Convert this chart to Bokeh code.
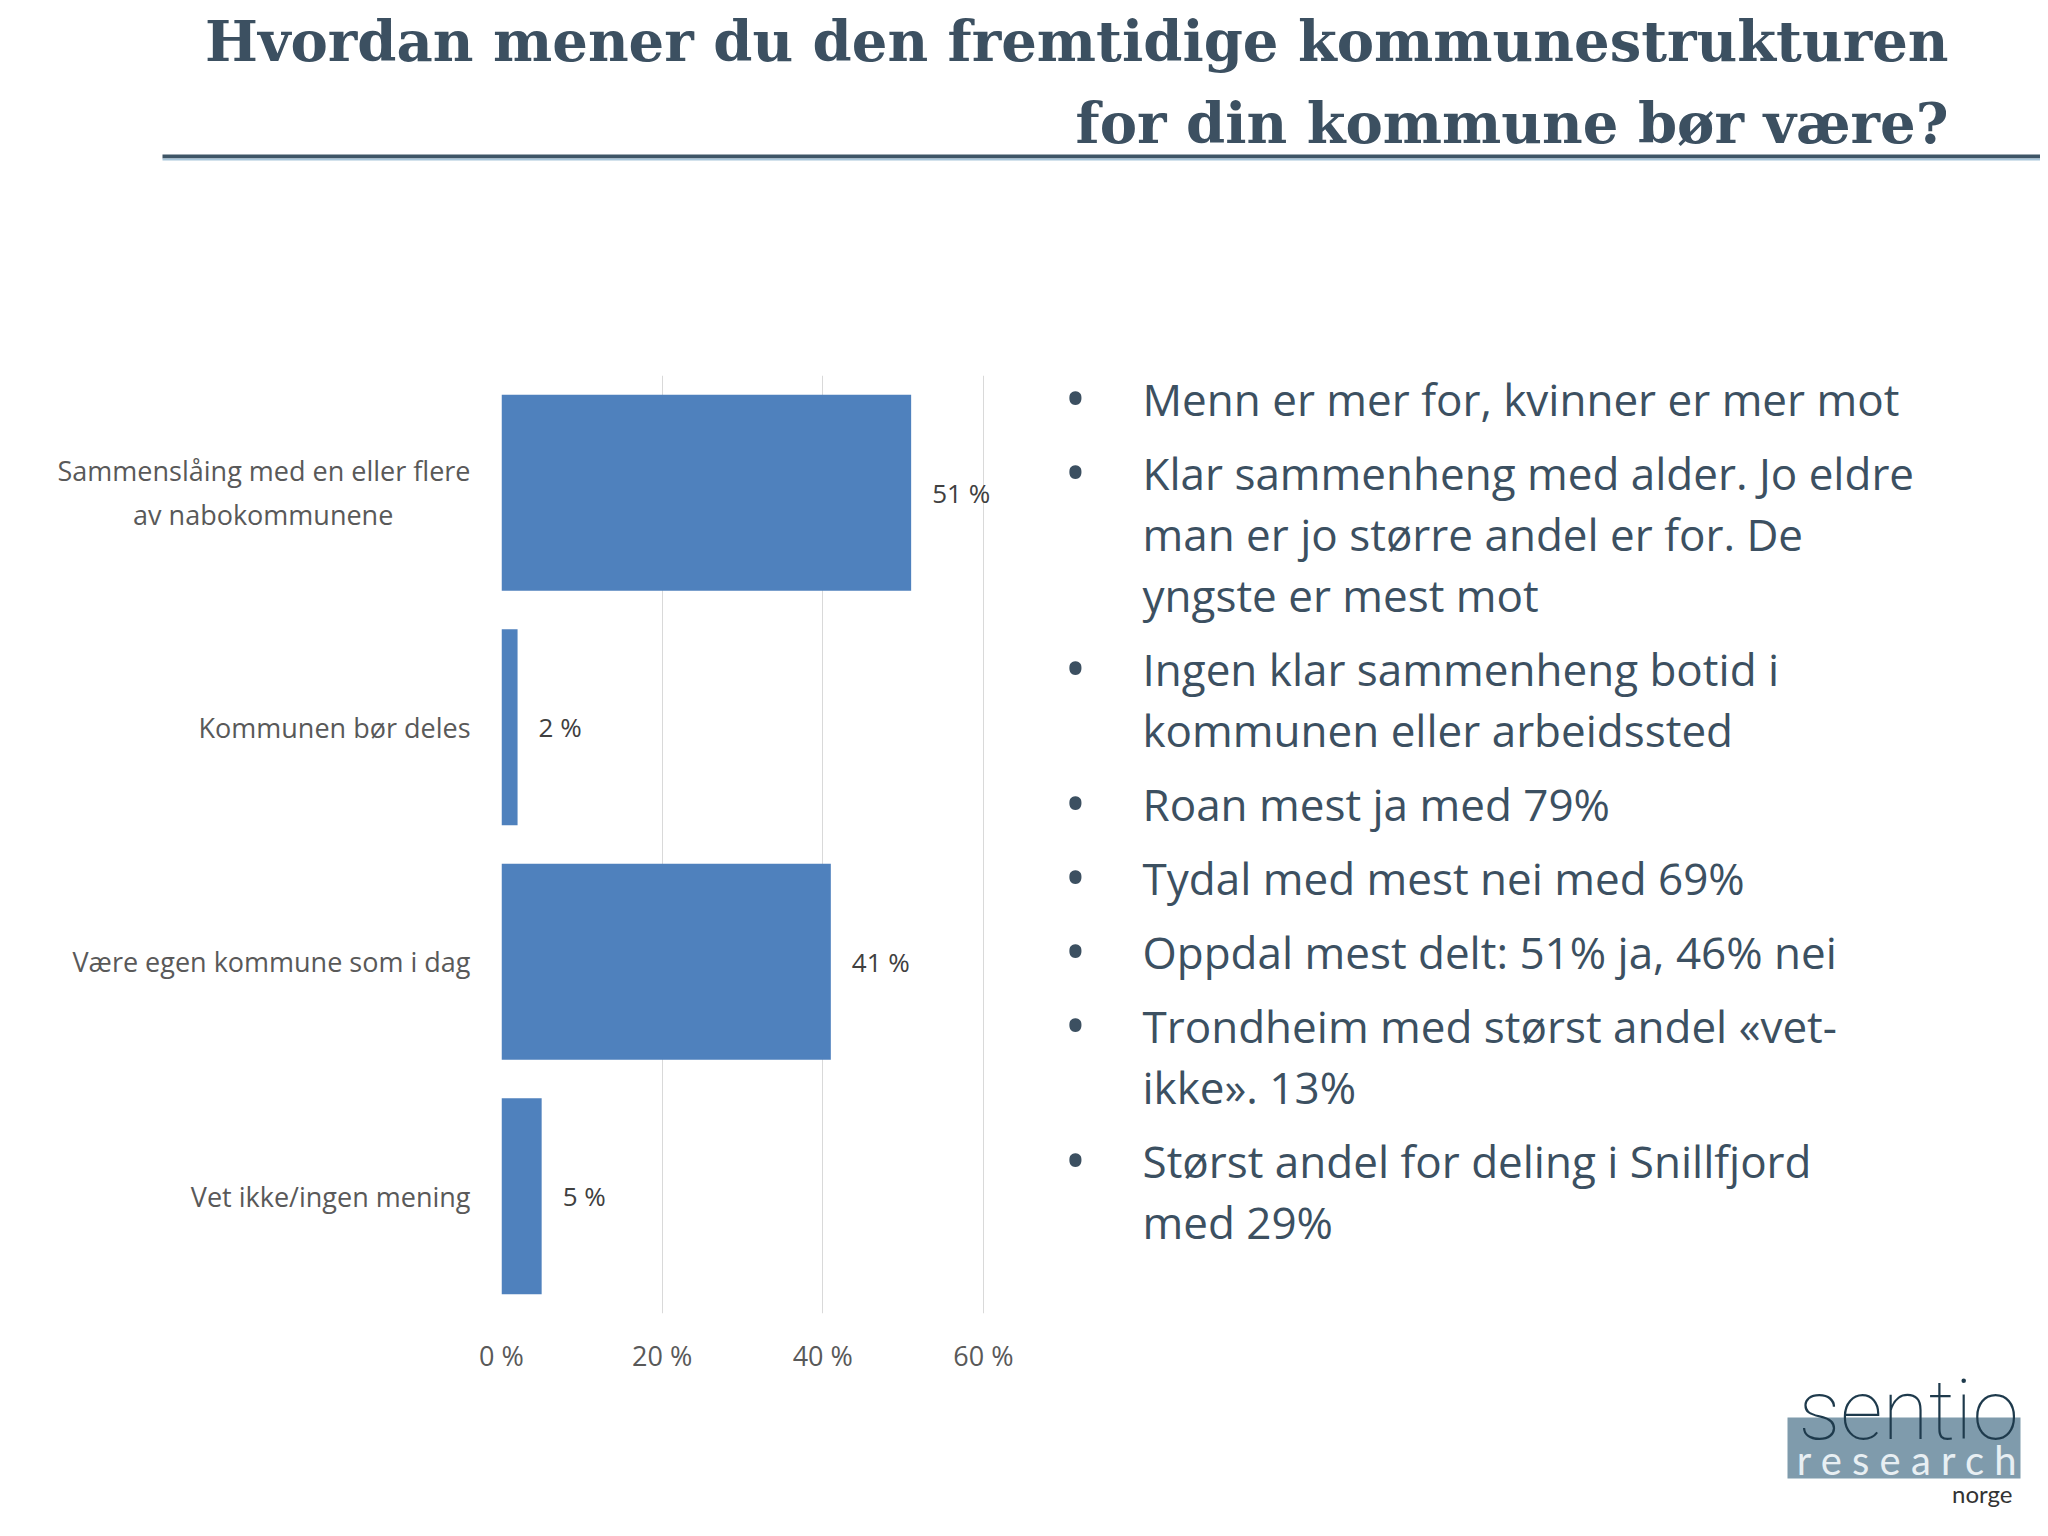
from bokeh.plotting import figure
from bokeh.layouts import column, row
from bokeh.models import (FactorRange, Range1d, FixedTicker, LabelSet, Label,
                          BoxAnnotation, ColumnDataSource)
from bokeh.embed import file_html
from bokeh.resources import INLINE
from bokeh.core.properties import value

# ---------------- data ----------------
categories = ["Sammenslåing med en eller flere\nav nabokommunene" + "\u00a0" * 11,
              "Kommunen bør deles",
              "Være egen kommune som i dag",
              "Vet ikke/ingen mening"]
values = [51, 2, 41, 5]
x_ticks = [0, 20, 40, 60]
tick_labels = ["0 %", "20 %", "40 %", "60 %"]
value_labels = [f"{v} %" for v in values]

title_lines = ["Hvordan mener du den fremtidige kommunestrukturen",
               "for din kommune bør være?"]
bullets = [
    ["Menn er mer for, kvinner er mer mot"],
    ["Klar sammenheng med alder. Jo eldre", "man er jo større andel er for. De", "yngste er mest mot"],
    ["Ingen klar sammenheng botid i", "kommunen eller arbeidssted"],
    ["Roan mest ja med 79%"],
    ["Tydal med mest nei med 69%"],
    ["Oppdal mest delt: 51% ja, 46% nei"],
    ["Trondheim med størst andel «vet-", "ikke». 13%"],
    ["Størst andel for deling i Snillfjord", "med 29%"],
]

BAR_COLOR = "#4f81bd"
SLATE = "#3c5061"
GRAY = "#595959"
SANS = "Open Sans"

PAGE_W = 2040
HEADER_H = 180
BODY_H = 1348
CHART_W = 1040

# Bokeh places an "alphabetic" label a little below the given y; compensate (fraction of font size)
def base(y, size, k=0.43):
    return y - k * size


def blank(w, h, x0, x1, y_top, y_bottom):
    f = figure(width=w, height=h, x_range=Range1d(x0, x1), y_range=Range1d(y_bottom, y_top),
               min_border=0, x_axis_location=None, y_axis_location=None,
               toolbar_location=None, output_backend="svg")
    f.frame_align = False
    f.outline_line_color = None
    f.xgrid.visible = False
    f.ygrid.visible = False
    return f


# ---------------- header (title + rule) ----------------
TITLE_SIZE = 56
head = blank(PAGE_W, HEADER_H, 0, PAGE_W, 0, HEADER_H)
for txt, b in zip(title_lines, [65, 147]):
    head.add_layout(Label(x=1948, y=base(b, TITLE_SIZE), text=txt, text_align="right",
                          text_baseline="alphabetic", text_font="DejaVu Serif",
                          text_font_style="bold", text_font_size=f"{TITLE_SIZE}px",
                          text_color=SLATE))
head.add_layout(BoxAnnotation(left=162, right=PAGE_W, top=154, bottom=158,
                              fill_color="#3e5566", fill_alpha=1.0, line_alpha=0))
head.add_layout(BoxAnnotation(left=162, right=PAGE_W, top=158, bottom=160,
                              fill_color="#a8c6da", fill_alpha=1.0, line_alpha=0))

# ---------------- bar chart ----------------
p = figure(y_range=FactorRange(*reversed(categories)), x_range=Range1d(0, 62),
           frame_width=498, frame_height=938,
           min_border_left=501, min_border_right=CHART_W - 501 - 498,
           min_border_top=195, min_border_bottom=BODY_H - 195 - 938,
           output_backend="svg", toolbar_location=None)
p.frame_align = False
p.outline_line_color = None

src = ColumnDataSource(dict(cat=categories, val=values, lbl=value_labels))
p.hbar(y="cat", left=0, right="val", height=0.836, source=src,
       fill_color=BAR_COLOR, line_color=None)

p.add_layout(LabelSet(x="val", y="cat", text="lbl", source=src, x_offset=21,
                      text_align="left", text_baseline="middle",
                      text_font=value(SANS), text_font_size="26px",
                      text_color="#404040"))

xa = p.xaxis[0]
xa.ticker = FixedTicker(ticks=x_ticks)
xa.major_label_overrides = {t: l for t, l in zip(x_ticks, tick_labels)}
xa.axis_line_color = None
xa.major_tick_line_color = None
xa.minor_tick_line_color = None
xa.major_tick_out = 0
xa.major_label_standoff = 23
xa.major_label_text_font = SANS
xa.major_label_text_font_size = "27px"
xa.major_label_text_color = GRAY

ya = p.yaxis[0]
ya.axis_line_color = None
ya.major_tick_line_color = None
ya.minor_tick_line_color = None
ya.major_tick_out = 0
ya.major_label_standoff = 31
ya.major_label_text_font = SANS
ya.major_label_text_font_size = "27px"
ya.major_label_text_color = GRAY

p.xgrid.ticker = FixedTicker(ticks=x_ticks)
p.xgrid.grid_line_color = "#d9d9d9"
p.xgrid.grid_line_width = 1
p.ygrid.grid_line_color = None

# ---------------- bullets + logo ----------------
BUL_SIZE = 44
DOT_SIZE = 58
right = blank(PAGE_W - CHART_W, BODY_H, CHART_W, PAGE_W, HEADER_H, HEADER_H + BODY_H)
y = 417
for bi, para in enumerate(bullets):
    if bi > 0:
        y += 74
    right.add_layout(Label(x=1075, y=base(y + 5, DOT_SIZE), text="•", text_align="center",
                           text_baseline="alphabetic", text_font=SANS,
                           text_font_size=f"{DOT_SIZE}px", text_color=SLATE))
    for li, line in enumerate(para):
        if li > 0:
            y += 61
        right.add_layout(Label(x=1142, y=base(y, BUL_SIZE), text=line, text_align="left",
                               text_baseline="alphabetic", text_font=SANS,
                               text_font_size=f"{BUL_SIZE}px", text_color=SLATE))

right.add_layout(BoxAnnotation(left=1787, right=2020, top=1417, bottom=1478,
                               fill_color="#7f9bac", fill_alpha=1.0, line_alpha=0))
right.add_layout(Label(x=1908, y=base(1438, 84, 0.33), text="sentio", text_align="center",
                       text_baseline="alphabetic",
                       text_font="'Roboto Thin', 'Roboto Light', 'Lato Light', Lato",
                       text_font_size="84px", text_color="#1e3a4c"))
right.add_layout(Label(x=1907, y=base(1473, 40, 0.33), text="r e s e a r c h",
                       text_align="center", text_baseline="alphabetic", text_font="Lato",
                       text_font_size="40px", text_color="#e8eff3"))
right.add_layout(Label(x=2012, y=base(1501, 24, 0.33), text="norge", text_align="right",
                       text_baseline="alphabetic", text_font="Lato",
                       text_font_size="24px", text_color="#333333"))

layout = column(head, row(p, right))
open("out.html", "w").write(file_html(layout, INLINE))
